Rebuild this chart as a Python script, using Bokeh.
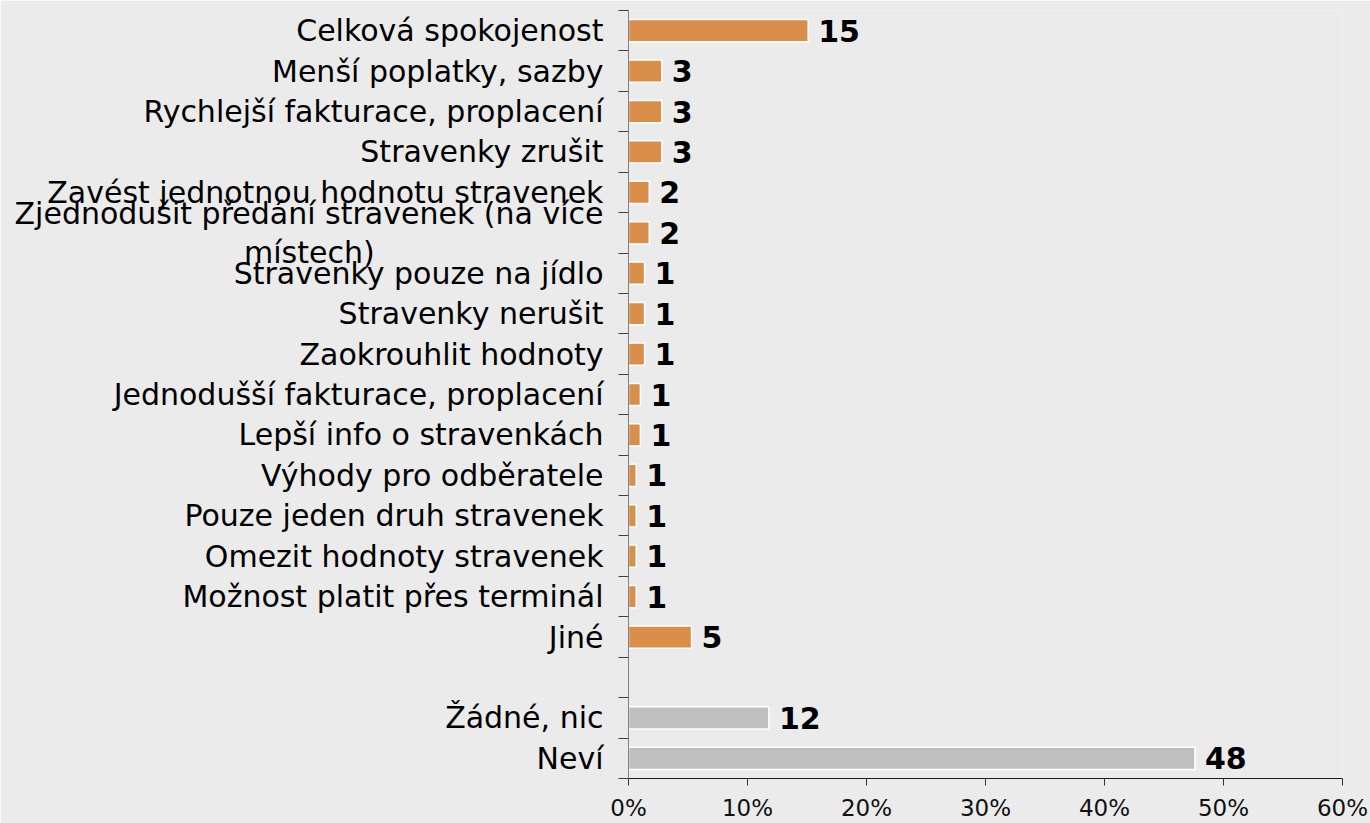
from bokeh.plotting import figure
from bokeh.models import ColumnDataSource, LabelSet, FixedTicker, PrintfTickFormatter, Range1d
from bokeh.core.properties import value
from bokeh.embed import file_html
from bokeh.resources import INLINE

# ---- data (top to bottom) ----
categories = [
    "Celková spokojenost", "Menší poplatky, sazby", "Rychlejší fakturace, proplacení",
    "Stravenky zrušit", "Zavést jednotnou hodnotu stravenek",
    "Zjednodušit předání stravenek (na více\nmístech)",
    "Stravenky pouze na jídlo", "Stravenky nerušit", "Zaokrouhlit hodnoty",
    "Jednodušší fakturace, proplacení", "Lepší info o stravenkách", "Výhody pro odběratele",
    "Pouze jeden druh stravenek", "Omezit hodnoty stravenek", "Možnost platit přes terminál",
    "Jiné", "", "Žádné, nic", "Neví",
]
percent = [15.1, 2.8, 2.8, 2.8, 1.75, 1.75, 1.35, 1.35, 1.35, 1.0, 1.0, 0.65, 0.65,
           0.65, 0.65, 5.3, None, 11.8, 47.6]
counts = ["15", "3", "3", "3", "2", "2", "1", "1", "1", "1", "1", "1", "1", "1", "1",
          "5", "", "12", "48"]
groups = ["suggestion"] * 16 + ["gap"] + ["none"] * 2
x_ticks = [0, 10, 20, 30, 40, 50, 60]

BG = "#EBEBEB"
ORANGE = "#D98F4A"
GREY = "#BFBFBF"
FONT = "DejaVu Sans"

n = len(categories)
ypos = [n - i - 0.5 for i in range(n)]

bar_y, bar_x, bar_c, bar_lbl = [], [], [], []
for y, v, c, g in zip(ypos, percent, counts, groups):
    if v is None:
        continue
    bar_y.append(y)
    bar_x.append(v)
    bar_lbl.append(c)
    bar_c.append(ORANGE if g == "suggestion" else GREY)
bars = ColumnDataSource(dict(y=bar_y, right=bar_x, color=bar_c, lbl=bar_lbl))


def axis_text(t):
    # the wrapped second line is centred under the first one in the original;
    # pad it with no-break spaces so the right-aligned axis label looks centred
    if "\n" in t:
        first, second = t.split("\n", 1)
        return first + "\n" + second + "\u00a0" * 24
    return t


p = figure(width=1370, height=823, output_backend="svg", toolbar_location=None,
           x_range=Range1d(0, 60), y_range=Range1d(0, n),
           min_border_left=628, min_border_right=28, min_border_top=10, min_border_bottom=0)
p.background_fill_color = BG
p.border_fill_color = BG
p.outline_line_color = None
p.grid.visible = False

p.hbar(y="y", right="right", left=0, height=0.55, source=bars,
       fill_color="color", line_color="white", line_width=1.5)

# x axis
xa = p.xaxis[0]
xa.ticker = FixedTicker(ticks=x_ticks)
xa.formatter = PrintfTickFormatter(format="%d%%")
xa.axis_line_color = "#1a1a1a"
xa.major_tick_line_color = "#333333"
xa.major_tick_out = 7
xa.major_tick_in = 0
xa.minor_tick_line_color = None
xa.major_label_standoff = 9
xa.major_label_text_font = FONT
xa.major_label_text_font_size = "23px"
xa.major_label_text_color = "#111111"

# y axis: labels at category centres, tick marks at category boundaries
ya = p.yaxis[0]
ya.ticker = FixedTicker(ticks=ypos, minor_ticks=list(range(0, n + 1)))
ya.major_label_overrides = {y: axis_text(t) for y, t in zip(ypos, categories)}
ya.major_tick_line_color = None
ya.major_tick_out = 0
ya.major_tick_in = 0
ya.minor_tick_line_color = "#404040"
ya.minor_tick_out = 10
ya.minor_tick_in = 0
ya.axis_line_color = "#808080"
ya.major_label_standoff = 15
ya.major_label_text_font = FONT
ya.major_label_text_font_size = "30px"
ya.major_label_text_line_height = 1.1
ya.major_label_text_color = "#000000"

p.add_layout(LabelSet(x="right", y="y", text="lbl", source=bars, x_offset=10,
                      text_align="left", text_baseline="middle",
                      text_font=value(FONT), text_font_size="30px",
                      text_font_style="bold", text_color="#000000"))

open("out.html", "w").write(file_html(p, INLINE))
